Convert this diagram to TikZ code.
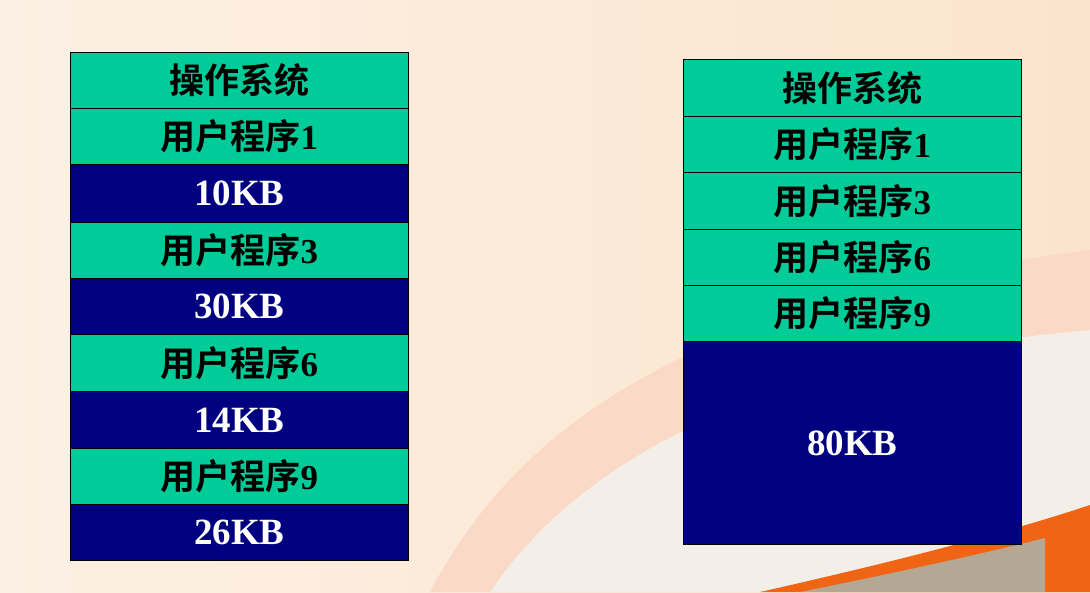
\documentclass[tikz,border=0pt]{standalone}
\usepackage{fontspec}
\setmainfont{Liberation Serif}
\newfontfamily\cjk{Noto Sans CJK SC}[BoldFont={* Bold}]
\definecolor{bgpeach}{RGB}{251,228,205}
\definecolor{bglight}{RGB}{252,240,228}
\definecolor{arcpink}{RGB}{250,218,198}
\definecolor{innerw}{RGB}{243,239,232}
\definecolor{orangeband}{RGB}{240,100,20}
\definecolor{greyfloor}{RGB}{180,168,148}
\definecolor{memgreen}{RGB}{0,204,153}
\definecolor{memblue}{RGB}{0,0,128}
\tikzset{
  x=1pt,y=-1pt,
  used/.style={draw=black,line width=0.8pt,fill=memgreen,minimum width=338pt,inner sep=0pt,anchor=north west,
    font=\fontsize{35}{38}\selectfont\cjk\bfseries,text=black},
  free/.style={draw=black,line width=0.8pt,fill=memblue,minimum width=338pt,inner sep=0pt,anchor=north west,
    font=\fontsize{37}{40}\selectfont\bfseries,text=white},
}
\begin{document}
\begin{tikzpicture}
\useasboundingbox (0,0) rectangle (1090,592);
% background
\shade[left color=bglight,right color=bgpeach] (0,0) rectangle (1090,592);
\fill[arcpink] (430,592) .. controls (520,420) and (700,300) .. (1090,250) -- (1090,592) -- cycle;
\fill[innerw] (490,592) .. controls (580,460) and (760,360) .. (1090,330) -- (1090,592) -- cycle;
\fill[orangeband] (760,592) .. controls (880,565) and (1000,535) .. (1090,505) -- (1090,592) -- cycle;
\fill[greyfloor] (800,592) .. controls (900,572) and (990,552) .. (1045,538) -- (1045,592) -- cycle;
% left stack
\node[used,minimum height=56pt] (a1) at (70,52) {操作系统};
\node[used,minimum height=56pt] (a2) at (70,108) {用户程序\textrm{1}};
\node[free,minimum height=58pt] (a3) at (70,164) {10KB};
\node[used,minimum height=56pt] (a4) at (70,222) {用户程序\textrm{3}};
\node[free,minimum height=56pt] (a5) at (70,278) {30KB};
\node[used,minimum height=57pt] (a6) at (70,334) {用户程序\textrm{6}};
\node[free,minimum height=57pt] (a7) at (70,391) {14KB};
\node[used,minimum height=56pt] (a8) at (70,448) {用户程序\textrm{9}};
\node[free,minimum height=56pt] (a9) at (70,504) {26KB};
% right stack
\node[used,minimum height=57pt] (b1) at (683,59) {操作系统};
\node[used,minimum height=56pt] (b2) at (683,116) {用户程序\textrm{1}};
\node[used,minimum height=57pt] (b3) at (683,172) {用户程序\textrm{3}};
\node[used,minimum height=56pt] (b4) at (683,229) {用户程序\textrm{6}};
\node[used,minimum height=56pt] (b5) at (683,285) {用户程序\textrm{9}};
\node[free,minimum height=203pt] (b6) at (683,341) {80KB};
\end{tikzpicture}
\end{document}
